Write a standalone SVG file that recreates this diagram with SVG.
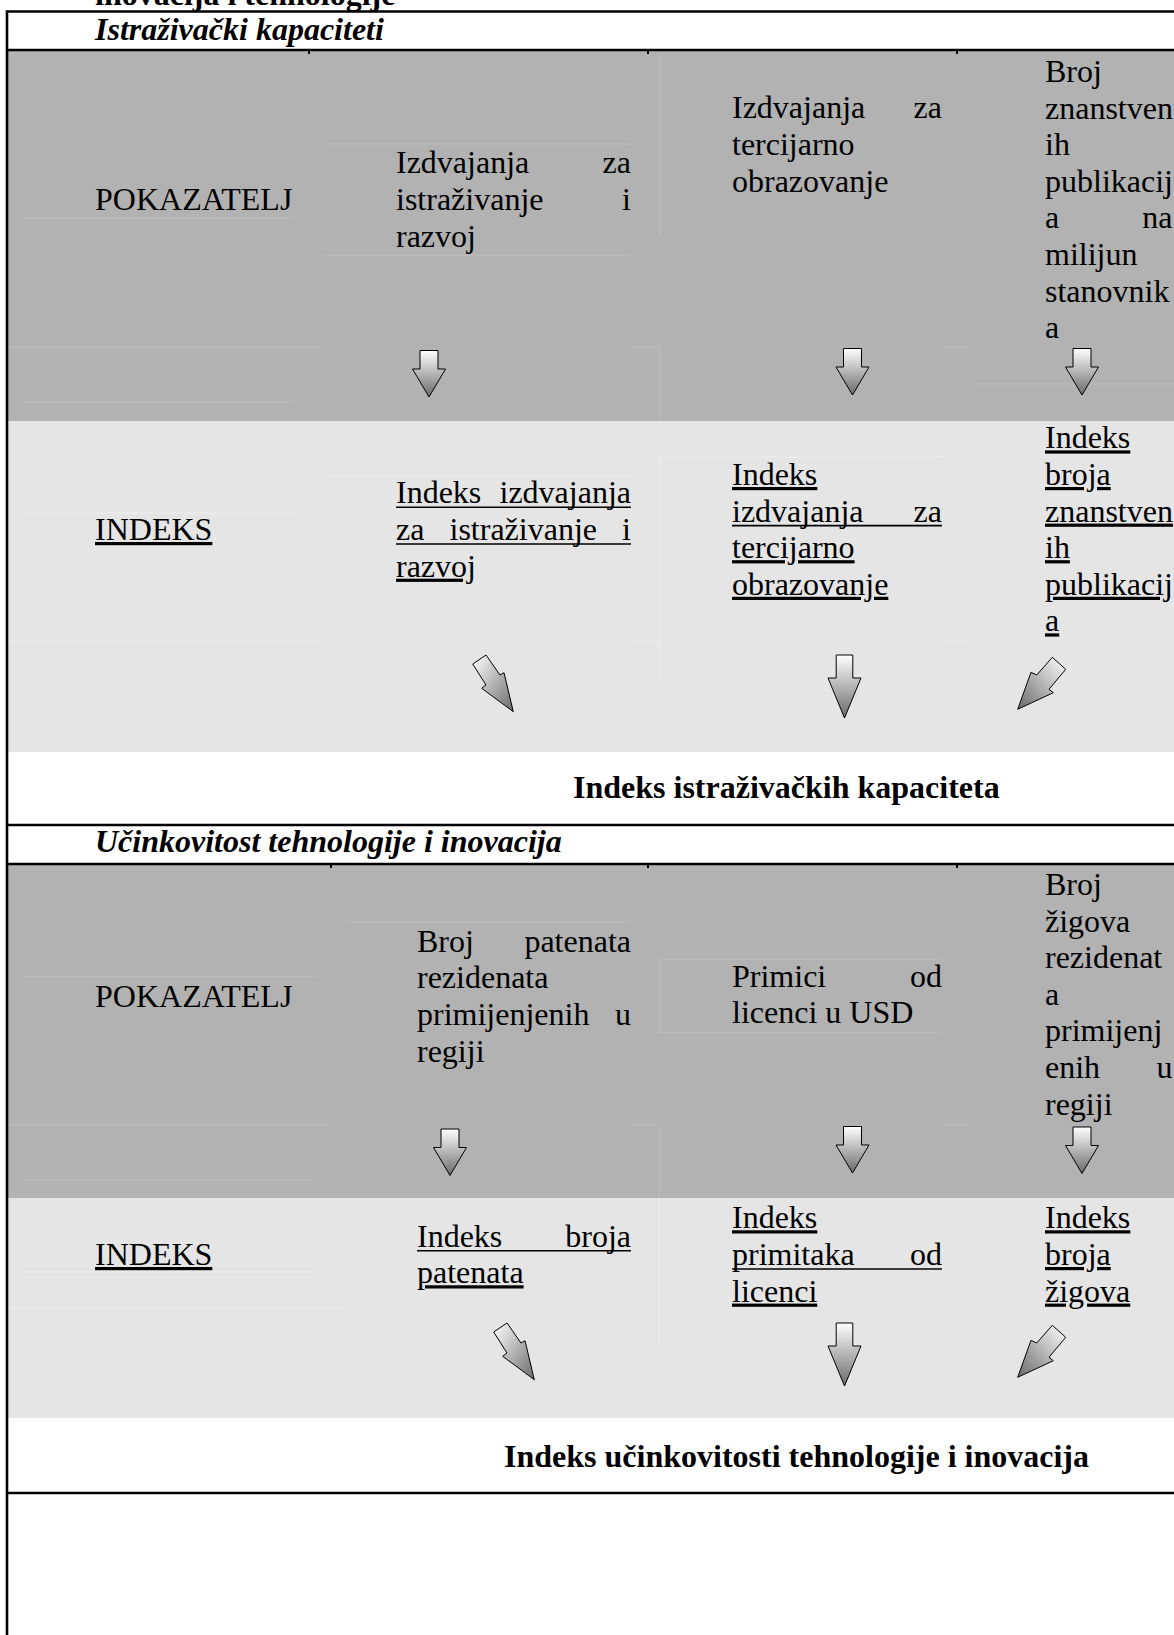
<svg xmlns="http://www.w3.org/2000/svg" xmlns:xlink="http://www.w3.org/1999/xlink" width="1174" height="1635" viewBox="0 0 1174 1635">
<style>
.t{font-family:"Liberation Serif","Times New Roman",serif;font-size:32px;fill:#000}
.b{font-weight:bold}
.bi{font-weight:bold;font-style:italic}
.u{text-decoration:underline}
.ul{stroke:#000;stroke-width:1.6}
.frame{stroke:#000;stroke-width:2.6;fill:none}
.tick{stroke:#000;stroke-width:2}
.fd{stroke:#bdbdbd;stroke-width:1}
.fl{stroke:#eeeeee;stroke-width:1}
.dark{fill:#b2b2b2}
.light{fill:#e5e5e5}
.arrow{stroke:#000;stroke-width:1;stroke-linejoin:miter}
</style>
<defs>
<linearGradient id="gDown" x1="0" y1="0" x2="0" y2="1">
<stop offset="0" stop-color="#ffffff"/>
<stop offset="1" stop-color="#6a6a6a"/>
</linearGradient>
<linearGradient id="gDR" x1="0" y1="0" x2="1" y2="1">
<stop offset="0" stop-color="#ffffff"/>
<stop offset="1" stop-color="#6a6a6a"/>
</linearGradient>
<linearGradient id="gDL" x1="1" y1="0" x2="0" y2="1">
<stop offset="0" stop-color="#ffffff"/>
<stop offset="1" stop-color="#6a6a6a"/>
</linearGradient>
<path id="arShort" d="M-9,0 H9 V18.5 H16.5 L0,46.5 L-16.5,18.5 H-9 Z"/>
<path id="arLong" d="M-8.3,0 H8.3 V23 H16.5 L0,63 L-16.5,23 H-8.3 Z"/>
<polygon id="arDR" points="472.7,664 486,655 500,675 504,672.7 513.3,711.7 481.7,688.3 486,685"/>
<polygon id="arDL" points="1052.3,657.3 1065.7,669.3 1049,689.3 1053.3,692.7 1017.7,709.3 1031,672.3 1036.7,675"/>
</defs>

<rect width="1174" height="1635" fill="#ffffff"/>

<g id="backgrounds">
<rect class="dark" x="8" y="51" width="1166" height="370"/>
<rect class="light" x="8" y="421" width="1166" height="331"/>
<rect class="dark" x="8" y="865" width="1166" height="333"/>
<rect class="light" x="8" y="1198" width="1166" height="220"/>
</g>

<g id="faint-lines">
<line class="fd" x1="22" y1="218" x2="295" y2="218"/>
<line class="fd" x1="8" y1="347" x2="323" y2="347"/>
<line class="fd" x1="22" y1="402" x2="295" y2="402"/>
<line class="fd" x1="324" y1="144" x2="631" y2="144"/>
<line class="fd" x1="324" y1="255" x2="631" y2="255"/>
<line class="fd" x1="659.5" y1="53" x2="659.5" y2="237"/>
<line class="fd" x1="659.5" y1="347" x2="659.5" y2="421"/>
<line class="fd" x1="631" y1="347" x2="660" y2="347"/>
<line class="fd" x1="943" y1="347" x2="971" y2="347"/>
<line class="fd" x1="974" y1="384" x2="1174" y2="384"/>
<line class="fl" x1="22" y1="513" x2="295" y2="513"/>
<line class="fl" x1="8" y1="641" x2="323" y2="641"/>
<line class="fl" x1="324" y1="476" x2="631" y2="476"/>
<line class="fl" x1="659.5" y1="457" x2="659.5" y2="677"/>
<line class="fl" x1="659.5" y1="457" x2="942" y2="457"/>
<line class="fl" x1="631" y1="641" x2="660" y2="641"/>
<line class="fl" x1="943" y1="641" x2="971" y2="641"/>
<line class="fd" x1="22" y1="977" x2="316" y2="977"/>
<line class="fd" x1="345" y1="922" x2="631" y2="922"/>
<line class="fd" x1="8" y1="1125" x2="330" y2="1125"/>
<line class="fd" x1="22" y1="1180" x2="316" y2="1180"/>
<line class="fd" x1="659.5" y1="959" x2="942" y2="959"/>
<line class="fd" x1="659.5" y1="1033" x2="942" y2="1033"/>
<line class="fd" x1="659.5" y1="959" x2="659.5" y2="1033"/>
<line class="fd" x1="659.5" y1="1125" x2="659.5" y2="1198"/>
<line class="fd" x1="631" y1="1125" x2="660" y2="1125"/>
<line class="fd" x1="943" y1="1125" x2="971" y2="1125"/>
<line class="fl" x1="22" y1="1272" x2="314" y2="1272"/>
<line class="fl" x1="8" y1="1308" x2="345" y2="1308"/>
<line class="fl" x1="659" y1="1198" x2="659" y2="1345"/>
</g>

<g id="frame">
<line class="frame" x1="7" y1="11.5" x2="1174" y2="11.5"/>
<line class="frame" x1="7" y1="50" x2="1174" y2="50"/>
<line class="frame" x1="7" y1="825" x2="1174" y2="825"/>
<line class="frame" x1="7" y1="864" x2="1174" y2="864"/>
<line class="frame" x1="7" y1="1493" x2="1174" y2="1493"/>
<line class="frame" x1="7" y1="10.2" x2="7" y2="1635"/>
<line class="tick" x1="309" y1="51" x2="309" y2="54"/>
<line class="tick" x1="648" y1="51" x2="648" y2="54"/>
<line class="tick" x1="957" y1="51" x2="957" y2="54"/>
<line class="tick" x1="331" y1="865" x2="331" y2="868"/>
<line class="tick" x1="648" y1="865" x2="648" y2="868"/>
<line class="tick" x1="957" y1="865" x2="957" y2="868"/>
</g>

<g id="title">
<text class="t b" x="95" y="5">inovacija i tehnologije</text>
</g>

<g id="s1-header">
<text class="t bi" x="95" y="40">Istraživački kapaciteti</text>
</g>

<g id="s1-pokazatelj">
<text class="t" x="95" y="210">POKAZATELJ</text>
</g>
<g id="s1-ind-1">
<text class="t" x="396" y="173.3">Izdvajanja</text>
<text class="t" x="631" y="173.3" text-anchor="end">za</text>
<text class="t" x="396" y="210">istraživanje</text>
<text class="t" x="631" y="210" text-anchor="end">i</text>
<text class="t" x="396" y="246.7">razvoj</text>
</g>
<g id="s1-ind-2">
<text class="t" x="732" y="118.4">Izdvajanja</text>
<text class="t" x="942" y="118.4" text-anchor="end">za</text>
<text class="t" x="732" y="155">tercijarno</text>
<text class="t" x="732" y="191.6">obrazovanje</text>
</g>
<g id="s1-ind-3">
<text class="t" x="1045" y="82">Broj</text>
<text class="t" x="1045" y="118.6">znanstven</text>
<text class="t" x="1045" y="155.2">ih</text>
<text class="t" x="1045" y="191.8">publikacij</text>
<text class="t" x="1045" y="228.4">a</text>
<text class="t" x="1172.5" y="228.4" text-anchor="end">na</text>
<text class="t" x="1045" y="265">milijun</text>
<text class="t" x="1045" y="301.6">stanovnik</text>
<text class="t" x="1045" y="338.2">a</text>
</g>

<g id="s1-indeks">
<text class="t u" x="95" y="540">INDEKS</text>
</g>
<g id="s1-idx-1">
<text class="t" x="396" y="503.3">Indeks</text>
<text class="t" x="631" y="503.3" text-anchor="end">izdvajanja</text>
<line class="ul" x1="396" y1="507.3" x2="631" y2="507.3"/>
<text class="t" x="396" y="540">za</text>
<text class="t" x="449.5" y="540">istraživanje</text>
<text class="t" x="631" y="540" text-anchor="end">i</text>
<line class="ul" x1="396" y1="544" x2="631" y2="544"/>
<text class="t u" x="396" y="576.7">razvoj</text>
</g>
<g id="s1-idx-2">
<text class="t u" x="732" y="485">Indeks</text>
<text class="t" x="732" y="521.6">izdvajanja</text>
<text class="t" x="942" y="521.6" text-anchor="end">za</text>
<line class="ul" x1="732" y1="525.6" x2="942" y2="525.6"/>
<text class="t u" x="732" y="558.2">tercijarno</text>
<text class="t u" x="732" y="594.8">obrazovanje</text>
</g>
<g id="s1-idx-3">
<text class="t u" x="1045" y="448.4">Indeks</text>
<text class="t u" x="1045" y="485">broja</text>
<text class="t u" x="1045" y="521.6">znanstven</text>
<text class="t u" x="1045" y="558.2">ih</text>
<text class="t u" x="1045" y="594.8">publikacij</text>
<text class="t u" x="1045" y="631.4">a</text>
</g>
<g id="s1-result">
<text class="t b" x="573" y="798">Indeks istraživačkih kapaciteta</text>
</g>

<g id="s2-header">
<text class="t bi" x="95" y="852">Učinkovitost tehnologije i inovacija</text>
</g>
<g id="s2-pokazatelj">
<text class="t" x="95" y="1006.7">POKAZATELJ</text>
</g>
<g id="s2-ind-1">
<text class="t" x="417" y="951.7">Broj</text>
<text class="t" x="631" y="951.7" text-anchor="end">patenata</text>
<text class="t" x="417" y="988.3">rezidenata</text>
<text class="t" x="417" y="1025">primijenjenih</text>
<text class="t" x="631" y="1025" text-anchor="end">u</text>
<text class="t" x="417" y="1061.6">regiji</text>
</g>
<g id="s2-ind-2">
<text class="t" x="732" y="986.7">Primici</text>
<text class="t" x="942" y="986.7" text-anchor="end">od</text>
<text class="t" x="732" y="1023.3">licenci u USD</text>
</g>
<g id="s2-ind-3">
<text class="t" x="1045" y="895">Broj</text>
<text class="t" x="1045" y="931.6">žigova</text>
<text class="t" x="1045" y="968.2">rezidenat</text>
<text class="t" x="1045" y="1004.8">a</text>
<text class="t" x="1045" y="1041.4">primijenj</text>
<text class="t" x="1045" y="1078">enih</text>
<text class="t" x="1172.5" y="1078" text-anchor="end">u</text>
<text class="t" x="1045" y="1114.6">regiji</text>
</g>
<g id="s2-indeks">
<text class="t u" x="95" y="1265">INDEKS</text>
</g>
<g id="s2-idx-1">
<text class="t" x="417" y="1246.7">Indeks</text>
<text class="t" x="631" y="1246.7" text-anchor="end">broja</text>
<line class="ul" x1="417" y1="1250.7" x2="631" y2="1250.7"/>
<text class="t u" x="417" y="1283.3">patenata</text>
</g>
<g id="s2-idx-2">
<text class="t u" x="732" y="1228.3">Indeks</text>
<text class="t" x="732" y="1265">primitaka</text>
<text class="t" x="942" y="1265" text-anchor="end">od</text>
<line class="ul" x1="732" y1="1269" x2="942" y2="1269"/>
<text class="t u" x="732" y="1301.6">licenci</text>
</g>
<g id="s2-idx-3">
<text class="t u" x="1045" y="1228.3">Indeks</text>
<text class="t u" x="1045" y="1265">broja</text>
<text class="t u" x="1045" y="1301.6">žigova</text>
</g>
<g id="s2-result">
<text class="t b" x="504" y="1467">Indeks učinkovitosti tehnologije i inovacija</text>
</g>

<g id="connectors">
<use xlink:href="#arShort" href="#arShort" class="arrow" fill="url(#gDown)" transform="translate(429,350.5)"/>
<use xlink:href="#arShort" href="#arShort" class="arrow" fill="url(#gDown)" transform="translate(852.5,348.5)"/>
<use xlink:href="#arShort" href="#arShort" class="arrow" fill="url(#gDown)" transform="translate(1082,348.5)"/>
<use xlink:href="#arDR" href="#arDR" class="arrow" fill="url(#gDR)"/>
<use xlink:href="#arLong" href="#arLong" class="arrow" fill="url(#gDown)" transform="translate(844.5,655)"/>
<use xlink:href="#arDL" href="#arDL" class="arrow" fill="url(#gDL)"/>
<use xlink:href="#arShort" href="#arShort" class="arrow" fill="url(#gDown)" transform="translate(450,1129)"/>
<use xlink:href="#arShort" href="#arShort" class="arrow" fill="url(#gDown)" transform="translate(852.5,1126.5)"/>
<use xlink:href="#arShort" href="#arShort" class="arrow" fill="url(#gDown)" transform="translate(1082,1127)"/>
<use xlink:href="#arDR" href="#arDR" class="arrow" fill="url(#gDR)" transform="translate(21,668)"/>
<use xlink:href="#arLong" href="#arLong" class="arrow" fill="url(#gDown)" transform="translate(844.5,1323)"/>
<use xlink:href="#arDL" href="#arDL" class="arrow" fill="url(#gDL)" transform="translate(0,668)"/>
</g>
</svg>
